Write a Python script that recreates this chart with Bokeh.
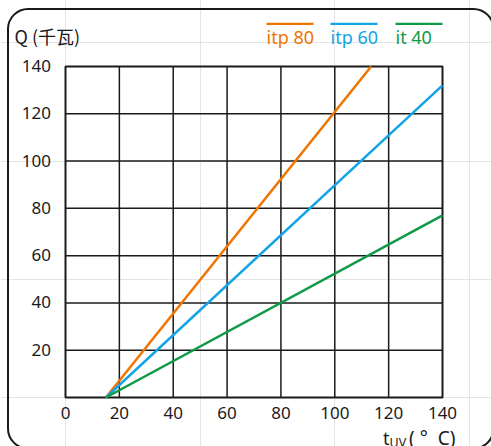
from bokeh.plotting import figure
from bokeh.models import Range1d, BoxAnnotation
from bokeh.core.properties import value
from bokeh.embed import file_html
from bokeh.resources import INLINE

# ---- data ----
series_names = ["itp 80", "itp 60", "it 40"]
itp80_t = [15, 113.5]
itp80_q = [0, 140]
itp60_t = [15, 140]
itp60_q = [0, 132]
it40_t = [15, 140]
it40_q = [0, 77]
x_ticks = [0, 20, 40, 60, 80, 100, 120, 140]
y_ticks = [20, 40, 60, 80, 100, 120, 140]
y_title = "Q (千瓦)"
x_title_main = "t"
x_title_sub = "UV"
x_title_unit = "(\u00a0°\u00a0\u00a0C)"

colors = ["#F07400", "#12A4E5", "#0F9A45"]
FONT = "Noto Sans"
INK = "#1a1a1a"

# ---- layout (pixel geometry of the picture) ----
W, H = 491, 446
FL, FT, FR, FB = 65, 66, 442, 397  # plot frame edges in pixels
sx = (FR - FL) / (x_ticks[-1] - x_ticks[0])
sy = (FB - FT) / (y_ticks[-1] - 0)


def dx(px):
    return x_ticks[0] + (px - FL) / sx


def dy(py):
    return (FB - py) / sy


p = figure(width=W, height=H, output_backend="svg", toolbar_location=None,
           x_range=Range1d(dx(0), dx(W)), y_range=Range1d(dy(H), dy(0)),
           x_axis_location=None, y_axis_location=None, min_border=0)
p.title.visible = False
p.background_fill_color = "white"
p.border_fill_color = "white"
p.outline_line_color = None

xmin, xmax, ymin, ymax = x_ticks[0], x_ticks[-1], 0, y_ticks[-1]

# grid lines (inner ticks)
gx = x_ticks[1:-1]
gy = y_ticks[:-1]
p.segment(x0=gx, x1=gx, y0=[ymin] * len(gx), y1=[ymax] * len(gx), line_color=INK, line_width=1.5)
p.segment(x0=[xmin] * len(gy), x1=[xmax] * len(gy), y0=gy, y1=gy, line_color=INK, line_width=1.5)
# frame
p.quad(left=[xmin], right=[xmax], bottom=[ymin], top=[ymax], fill_color=None,
       line_color=INK, line_width=2)

# data lines
data = [(itp80_t, itp80_q), (itp60_t, itp60_q), (it40_t, it40_q)]
for (t, q), c in zip(data, colors):
    p.line(t, q, line_color=c, line_width=2.5)

# tick labels
p.text(x=x_ticks, y=[dy(412)] * len(x_ticks), text=[str(t) for t in x_ticks],
       text_align="center", text_baseline="middle", text_font=value(FONT),
       text_font_size=value("17px"), text_color=INK)
p.text(x=[dx(50.5)] * len(y_ticks), y=[t + 0.5 / sy for t in y_ticks], text=[str(t) for t in y_ticks],
       text_align="right", text_baseline="middle", text_font=value(FONT),
       text_font_size=value("17px"), text_color=INK)

# legend: coloured bar above each name
leg_px = [266, 330, 395]
leg_w = 47
p.segment(x0=[dx(v) for v in leg_px], x1=[dx(v + leg_w) for v in leg_px],
          y0=[dy(23.3)] * 3, y1=[dy(23.3)] * 3, line_color=colors, line_width=2.2)
p.text(x=[dx(v) for v in leg_px], y=[dy(36.5)] * 3, text=series_names, text_color=colors,
       text_align="left", text_baseline="middle", text_font=value(FONT),
       text_font_size=value("18px"))

# axis titles
p.text(x=[dx(14)], y=[dy(35)], text=[y_title], text_color=INK, text_baseline="middle",
       text_font=value("Noto Sans CJK SC"), text_font_size=value("18px"))
p.text(x=[dx(382.5)], y=[dy(437.5)], text=[x_title_main], text_color=INK, text_baseline="middle",
       text_font=value(FONT), text_font_size=value("18px"))
p.text(x=[dx(389)], y=[dy(442)], text=[x_title_sub], text_color=INK, text_baseline="middle",
       text_font=value(FONT), text_font_size=value("12.5px"))
p.text(x=[dx(408.5)], y=[dy(437.5)], text=[x_title_unit], text_color=INK, text_baseline="middle",
       text_font=value(FONT), text_font_size=value("19px"))

# rounded outer border (runs off the right and bottom edges)
p.add_layout(BoxAnnotation(left=dx(7.5), right=dx(493), top=dy(8.5), bottom=dy(448),
                           fill_alpha=0, line_color=INK, line_alpha=1.0, line_width=2,
                           border_radius=20))

open("out.html", "w").write(file_html(p, INLINE))
